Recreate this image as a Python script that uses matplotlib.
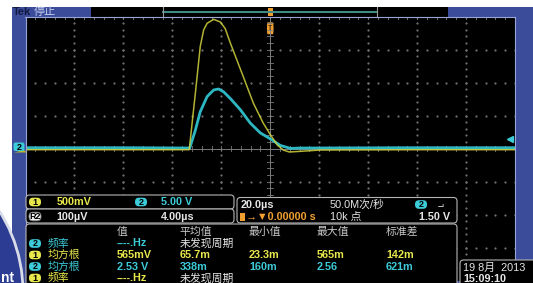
import numpy as np
import matplotlib.pyplot as plt
from matplotlib.patches import Rectangle, FancyBboxPatch, Circle, Polygon

plt.rcParams['font.family'] = ['Liberation Sans', 'Noto Sans CJK SC', 'DejaVu Sans']

# trace data, time in us (trigger at 0), volts
t_ch1 = [-100, -60, -33.1, -30.6, -28.6, -27.2, -25.8, -23.1, -20.4, -18.4, -16.3,
         -11.0, -6.9, -2.9, 0, 2.9, 5.3, 7.8, 12.2, 20.4, 60, 100]
v_ch1 = [-0.015, -0.015, -0.015, 0.84, 1.55, 1.80, 1.90, 1.96, 1.92, 1.82, 1.60,
         1.09, 0.69, 0.39, 0.215, 0.056, -0.02, -0.05, -0.04, -0.02, -0.015, -0.015]
t_ch2 = [-100, -60, -32.9, -30.6, -28.6, -25.8, -23.1, -21.1, -19.0, -16.3, -12.2,
         -8.2, -4.1, 0, 4.1, 8.2, 12.2, 60, 100]
v_ch2 = [0.15, 0.15, 0.1, 2.8, 5.6, 7.9, 8.9, 9.05, 8.6, 7.6, 5.9,
         3.9, 2.4, 1.5, 0.5, 0.05, 0.1, 0.15, 0.15]
ch1_scale = 0.5   # V/div
ch2_scale = 5.0   # V/div
trig_level = 1.5  # V on ch2

# measurement table
meas_head = ["值", "平均值", "最小值", "最大值", "标准差"]
meas_rows = [
    ("2", "频率", ["----.Hz", "未发现周期"]),
    ("1", "均方根", ["565mV", "65.7m", "23.3m", "565m", "142m"]),
    ("2", "均方根", ["2.53 V", "338m", "160m", "2.56", "621m"]),
    ("1", "频率", ["----.Hz", "未发现周期"]),
]

BLUE = '#3b4c9b'
YEL = '#e8e84c'
CYN = '#3ccbd8'
ORG = '#f0a030'
WHT = '#e6e6e6'
GRID = '#6e6e6e'
ch_col = {"1": YEL, "2": CYN}

fig = plt.figure(figsize=(5.33, 2.83), dpi=100, facecolor='white')

# background / frame in pixel coords
bg = fig.add_axes([0, 0, 1, 1], zorder=0)
bg.set_xlim(0, 533)
bg.set_ylim(283, 0)
bg.axis('off')
bg.add_patch(Rectangle((12, 7), 521, 276, fc=BLUE, ec='none'))
bg.add_patch(Rectangle((91, 7), 357, 10, fc='black', ec='none'))
bg.plot([163, 377], [11.7, 11.7], color='#3f8a82', lw=1.5)
bg.plot([163, 163], [7, 17], color='#9a9a9a', lw=0.8)
bg.plot([377, 377], [7, 17], color='#9a9a9a', lw=0.8)
bg.add_patch(Rectangle((267.5, 7.5), 5, 8, fc=ORG, ec='none'))
bg.text(13, 12.3, "Tek", color='#121a40', fontsize=8, fontweight='bold', va='center')
bg.text(34, 12.3, "停止", color='#c8d0f0', fontsize=8, va='center')
bg.add_patch(Circle((-127.5, 292), 150.5, fc='#2c3c92', ec='#d8dce8', lw=2, zorder=3))
bg.text(0.5, 281.5, "nt", color='white', fontsize=10, fontweight='bold', zorder=4)

# scope graticule, x in us, y in divisions
ax = fig.add_axes([25.5 / 533, 1 - 280.7 / 283, 489.5 / 533, 264 / 283], zorder=1)
ax.set_facecolor('black')
ax.set_xlim(-100, 100)
ax.set_ylim(-4, 4)
ax.set_xticks([])
ax.set_yticks([])
for s in ['top', 'left', 'right']:
    ax.spines[s].set_color('#9aa6d8')
    ax.spines[s].set_linewidth(0.8)
ax.spines['bottom'].set_visible(False)

dots_y = np.arange(-4, 4.01, 0.2)
dots_x = np.arange(-100, 100.1, 4)
for gx in range(-80, 81, 20):
    if gx != 0:
        ax.plot([gx] * len(dots_y), dots_y, ls='none', marker='s', ms=0.6, color=GRID)
for gy in range(-3, 4):
    if gy != 0:
        ax.plot(dots_x, [gy] * len(dots_x), ls='none', marker='s', ms=0.6, color=GRID)
ax.axvline(0, color='#7c7c7c', lw=0.7)
ax.axhline(0, color='#7c7c7c', lw=0.7)
for x in dots_x:
    ax.plot([x, x], [-0.07, 0.07], color='#7c7c7c', lw=0.6)
    ax.plot([x, x], [4, 3.93], color='#8a8a8a', lw=0.6)
for y in dots_y:
    ax.plot([-1.2, 1.2], [y, y], color='#7c7c7c', lw=0.6)

ax.plot(t_ch2, np.array(v_ch2) / ch2_scale, color='#2fc2ce', lw=2.0, alpha=0.95)
ax.plot(t_ch1, np.array(v_ch1) / ch1_scale, color='#d2d23c', lw=1.1, alpha=0.85)
ax.plot(98, trig_level / ch2_scale, marker='<', color=CYN, ms=4, clip_on=False)
ax.add_patch(FancyBboxPatch((-1.4, 3.55), 2.8, 0.2, boxstyle='round,pad=0.08,rounding_size=0.4',
                            fc=ORG, ec='none'))
ax.text(0, 3.64, "T", color='#5a3000', fontsize=5, fontweight='bold', ha='center', va='center')

# readout panels in pixel coords
fg = fig.add_axes([0, 0, 1, 1], zorder=2)
fg.set_xlim(0, 533)
fg.set_ylim(283, 0)
fg.axis('off')


def panel(x, y, w, h):
    fg.add_patch(FancyBboxPatch((x, y), w, h, boxstyle='round,pad=0,rounding_size=3.5',
                                fc='black', ec='#b4b4b4', lw=0.8))


def badge(x, y, s, fc, tc='black', ec='none'):
    fg.add_patch(FancyBboxPatch((x - 4.5, y - 2.8), 9, 5.6, boxstyle='round,pad=1.5,rounding_size=4',
                                fc=fc, ec=ec, lw=0.6))
    fg.text(x, y + 0.3, s, color=tc, fontsize=6.5, fontweight='bold', ha='center', va='center')


def txt(x, y, s, c, **kw):
    fg.text(x, y, s, color=c, fontsize=7.8, va='center', **kw)


# channel 2 ground marker on the left edge
fg.add_patch(Polygon([[24, 150], [27, 152.5], [14, 152.5]], closed=True, fc='#b8b830', ec='none'))
fg.add_patch(FancyBboxPatch((13.5, 142.5), 11, 8.5, boxstyle='round,pad=0,rounding_size=2',
                            fc=CYN, ec='none'))
fg.text(19, 147, "2", color='black', fontsize=6.5, fontweight='bold', ha='center', va='center')

panel(26, 195, 208, 14)
panel(26, 209, 208, 14)
panel(237, 197.5, 220, 25.5)
panel(26, 224, 431, 70)
panel(460, 260, 90, 40)

badge(35, 202, "1", YEL)
txt(56.5, 202.3, "500mV", YEL, fontweight='bold')
badge(141, 202, "2", CYN)
txt(161, 202.3, "5.00 V", CYN, fontweight='bold')
badge(35, 216.5, "R2", '#f0f0f0', ec='#808080')
txt(56.5, 216.8, "100µV", WHT, fontweight='bold')
txt(161, 216.8, "4.00µs", WHT, fontweight='bold')

txt(241, 205, "20.0µs", WHT, fontweight='bold')
txt(330, 205, "50.0M次/秒", WHT)
badge(421, 204.5, "2", CYN)
txt(437, 204.5, "⌐", WHT, fontweight='bold', rotation=180)
fg.add_patch(Rectangle((240, 212.5), 5, 8, fc=ORG, ec='none'))
txt(246, 216.8, "→▼0.00000 s", ORG, fontweight='bold')
txt(330, 216.8, "10k 点", WHT)
txt(450, 216.8, "1.50 V", WHT, fontweight='bold', ha='right')

col_x = [117, 179.5, 249, 317, 386]
for cx, h in zip(col_x, meas_head):
    txt(cx, 232, h, '#c8c8c8')
row_y = [243.5, 255, 266.5, 278]
for ry, (ch, name, vals) in zip(row_y, meas_rows):
    badge(35, ry, ch, ch_col[ch])
    txt(47.5, ry, name, ch_col[ch])
    for i, v in enumerate(vals):
        c = ch_col[ch] if i == 0 or ch == "1" or v[0].isdigit() else WHT
        if v == "未发现周期":
            c = WHT
        txt(col_x[i], ry, v, c, fontweight='bold' if v[0] != "未" else 'normal')

txt(463, 267.5, "19 8月  2013", WHT)
txt(463, 278.5, "15:09:10", WHT, fontweight='bold')

fig.savefig("out.png", dpi=100, facecolor='white')
